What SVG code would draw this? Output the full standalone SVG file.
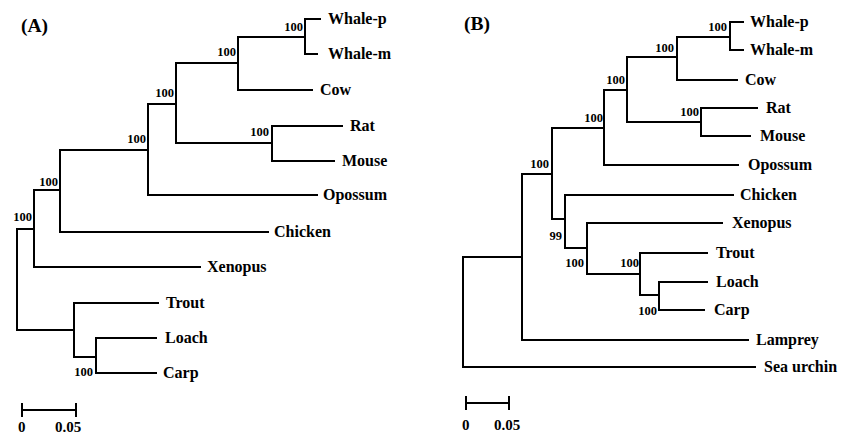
<svg xmlns="http://www.w3.org/2000/svg" width="842" height="439" viewBox="0 0 842 439">
<style>
.br{fill:none;stroke:#000;stroke-width:2;stroke-linecap:square}
.lf{font-family:"Liberation Serif","Times New Roman",serif;font-weight:bold;font-size:16px;fill:#000}
.bs{font-family:"Liberation Serif","Times New Roman",serif;font-weight:bold;font-size:12.5px;fill:#000;text-anchor:end}
.ti{font-family:"Liberation Serif","Times New Roman",serif;font-weight:bold;font-size:19.5px;fill:#000}
.sc{font-family:"Liberation Serif","Times New Roman",serif;font-weight:bold;font-size:15px;fill:#000}
</style>
<rect width="842" height="439" fill="#fff"/>
<text class="ti" x="21" y="32">(A)</text>
<text class="ti" x="464" y="30">(B)</text>
<g id="connectors">
<g id="treeA-branches">
<path class="br" d="M320,19 H305 V54 H317"/>
<path class="br" d="M305,37 H238 V90 H312"/>
<path class="br" d="M342,126 H272 V161 H334"/>
<path class="br" d="M238,63 H176 V143 H272"/>
<path class="br" d="M176,104 H148 V195 H317"/>
<path class="br" d="M148,150 H60 V232 H268"/>
<path class="br" d="M60,190 H34 V267 H200"/>
<path class="br" d="M156,338 H96 V373 H156"/>
<path class="br" d="M158,303 H74 V357 H96"/>
<path class="br" d="M34,229 H17 V330 H74"/>
</g>
<g id="treeB-branches">
<path class="br" d="M743,22 H730 V50 H743"/>
<path class="br" d="M730,37 H677 V80 H737"/>
<path class="br" d="M757,108 H701 V136 H750"/>
<path class="br" d="M677,57 H627 V122 H701"/>
<path class="br" d="M627,90 H604 V165 H738"/>
<path class="br" d="M604,128 H552 V219 H565"/>
<path class="br" d="M733,195 H565 V248 H587"/>
<path class="br" d="M722,223 H587 V274 H640"/>
<path class="br" d="M707,253 H640 V295 H659"/>
<path class="br" d="M707,282 H659 V310 H704"/>
<path class="br" d="M552,174 H522 V340 H748"/>
<path class="br" d="M522,257 H463 V367 H755"/>
</g>
</g>
<g id="A-leaves">
<g id="A-whale-p"><text class="lf" x="328" y="24">Whale-p</text></g>
<g id="A-whale-m"><text class="lf" x="328" y="59">Whale-m</text></g>
<g id="A-cow"><text class="lf" x="320" y="95">Cow</text></g>
<g id="A-rat"><text class="lf" x="350" y="131">Rat</text></g>
<g id="A-mouse"><text class="lf" x="342" y="166">Mouse</text></g>
<g id="A-opossum"><text class="lf" x="323" y="200">Opossum</text></g>
<g id="A-chicken"><text class="lf" x="274" y="237">Chicken</text></g>
<g id="A-xenopus"><text class="lf" x="207" y="272">Xenopus</text></g>
<g id="A-trout"><text class="lf" x="166" y="308">Trout</text></g>
<g id="A-loach"><text class="lf" x="165" y="343">Loach</text></g>
<g id="A-carp"><text class="lf" x="163" y="378">Carp</text></g>
</g>
<g id="A-internal">
<g id="A-n-whale"><text class="bs" x="303" y="31">100</text></g>
<g id="A-n-whalecow"><text class="bs" x="236" y="56">100</text></g>
<g id="A-n-ratmouse"><text class="bs" x="269" y="136">100</text></g>
<g id="A-n-eutheria"><text class="bs" x="174" y="97">100</text></g>
<g id="A-n-mammalia"><text class="bs" x="146" y="143">100</text></g>
<g id="A-n-amniota"><text class="bs" x="58" y="186">100</text></g>
<g id="A-n-tetrapoda"><text class="bs" x="32" y="221">100</text></g>
<g id="A-n-loachcarp"><text class="bs" x="93" y="376">100</text></g>
</g>
<g id="B-leaves">
<g id="B-whale-p"><text class="lf" x="750" y="27">Whale-p</text></g>
<g id="B-whale-m"><text class="lf" x="750" y="55">Whale-m</text></g>
<g id="B-cow"><text class="lf" x="745" y="85">Cow</text></g>
<g id="B-rat"><text class="lf" x="766" y="113">Rat</text></g>
<g id="B-mouse"><text class="lf" x="760" y="141">Mouse</text></g>
<g id="B-opossum"><text class="lf" x="748" y="170">Opossum</text></g>
<g id="B-chicken"><text class="lf" x="740" y="200">Chicken</text></g>
<g id="B-xenopus"><text class="lf" x="732" y="228">Xenopus</text></g>
<g id="B-trout"><text class="lf" x="716" y="258">Trout</text></g>
<g id="B-loach"><text class="lf" x="716" y="287">Loach</text></g>
<g id="B-carp"><text class="lf" x="714" y="315">Carp</text></g>
<g id="B-lamprey"><text class="lf" x="756" y="345">Lamprey</text></g>
<g id="B-seaurchin"><text class="lf" x="764" y="372">Sea urchin</text></g>
</g>
<g id="B-internal">
<g id="B-n-whale"><text class="bs" x="727" y="31">100</text></g>
<g id="B-n-whalecow"><text class="bs" x="674" y="52">100</text></g>
<g id="B-n-ratmouse"><text class="bs" x="699" y="116">100</text></g>
<g id="B-n-eutheria"><text class="bs" x="625" y="84">100</text></g>
<g id="B-n-mammalia"><text class="bs" x="603" y="122">100</text></g>
<g id="B-n-amniota"><text class="bs" x="549" y="168">100</text></g>
<g id="B-n-99"><text class="bs" x="562" y="240">99</text></g>
<g id="B-n-xenfish"><text class="bs" x="584" y="267">100</text></g>
<g id="B-n-fish"><text class="bs" x="639" y="267">100</text></g>
<g id="B-n-loachcarp"><text class="bs" x="657" y="315">100</text></g>
</g>
<g id="scale-A">
<path class="br" d="M22,410 H76 M22,404 V416 M76,404 V416"/>
<text class="sc" x="18" y="432">0</text>
<text class="sc" x="55" y="432">0.05</text>
</g>
<g id="scale-B">
<path class="br" d="M466,403 H509 M466,397 V409 M509,397 V409"/>
<text class="sc" x="462" y="430">0</text>
<text class="sc" x="494" y="430">0.05</text>
</g>
</svg>
